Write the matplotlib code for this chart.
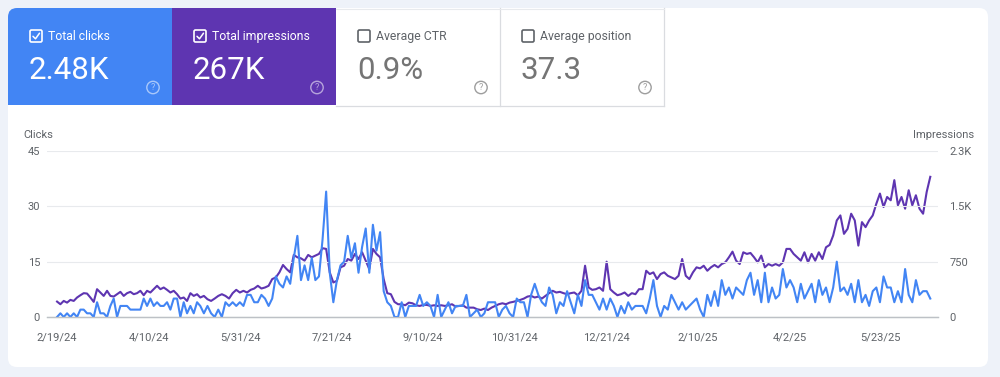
import numpy as np
import pandas as pd
import matplotlib
matplotlib.use('Agg')
import matplotlib.pyplot as plt
import matplotlib.patches as mpatches
import matplotlib.dates as mdates

plt.rcParams['font.family'] = ['Roboto', 'DejaVu Sans']

# metric cards
card_titles = ['Total clicks', 'Total impressions', 'Average CTR', 'Average position']
card_values = ['2.48K', '267K', '0.9%', '37.3']
card_selected = [True, True, False, False]

# series (one value about every 2 days)
clicks = [
    0, 1, 0, 1, 0, 1, 0, 2, 2, 1, 1, 0, 4, 1, 1, 0, 3, 5, 0, 3, 3, 3, 2, 2, 2, 2, 5, 3, 5, 3, 4, 3, 3, 4, 2, 5, 5, 0, 4, 1, 3, 1, 4,
    3, 1, 3, 1, 0, 2, 0, 4, 3, 4, 3, 4, 3, 6, 6, 4, 4, 6, 5, 3, 5, 11, 9, 8, 11, 9, 16, 22, 10, 14, 10, 16, 10, 11, 21, 34, 12, 4, 10, 14, 15,
    22, 16, 20, 12, 19, 24, 12, 25, 18, 23, 7, 4, 3, 0, 0, 4, 0, 3, 3, 3, 6, 3, 4, 3, 0, 6, 0, 2, 4, 1, 3, 3, 3, 6, 0, 1, 2, 0, 1, 4, 4,
    4, 0, 2, 3, 1, 0, 5, 4, 4, 0, 6, 9, 6, 4, 3, 8, 6, 1, 4, 3, 7, 4, 1, 6, 3, 10, 6, 6, 4, 2, 5, 2, 5, 3, 0, 3, 1, 4, 2, 3, 3,
    3, 1, 5, 10, 3, 0, 3, 2, 6, 4, 2, 4, 2, 3, 4, 5, 2, 0, 6, 3, 7, 3, 10, 6, 8, 5, 8, 7, 6, 10, 12, 6, 10, 4, 12, 4, 8, 5, 6, 13, 8,
    10, 8, 4, 9, 5, 7, 9, 4, 10, 6, 8, 4, 8, 15, 7, 8, 6, 9, 4, 10, 4, 6, 3, 7, 8, 4, 11, 8, 8, 4, 7, 4, 13, 6, 4, 10, 6, 7, 7, 5,
]
impressions = [
    209, 173, 218, 195, 232, 218, 264, 295, 323, 318, 264, 205, 377, 332, 286, 355, 286, 277, 309, 341, 286, 323, 341, 309, 323, 355,
    295, 355, 332, 377, 423, 377, 400, 368, 332, 355, 309, 250, 264, 218, 323, 286, 309,
    264, 286, 241, 218, 250, 286, 309, 286, 250, 323, 368, 332, 355, 332, 368, 386, 423, 386, 400, 423, 514, 536, 605, 705, 650, 605,
    841, 809, 795, 764, 841, 809, 832, 855, 932, 923, 605, 468, 491, 673, 695,
    786, 764, 855, 786, 877, 764, 650, 923, 855, 809, 514, 323, 309, 205, 173, 173, 159, 195, 186, 159, 150, 164, 164, 150, 159, 150,
    159, 150, 159, 173, 141, 150, 159, 127, 127, 127, 105, 95, 114, 95, 127,
    150, 173, 186, 173, 195, 205, 218, 232, 250, 277, 286, 264, 277, 250, 286, 323, 355, 332, 341, 323, 309, 323, 332, 295, 355, 695,
    400, 368, 377, 400, 355, 750, 377, 332, 295, 309, 332, 286, 323, 309, 377,
    377, 627, 582, 605, 514, 582, 605, 559, 536, 514, 559, 786, 559, 514, 605, 673, 659, 695, 627, 673, 705, 673, 718, 741, 809, 886,
    764, 718, 877, 855, 868, 809, 741, 832, 673, 718, 695, 718, 695, 741, 923,
    923, 855, 809, 764, 877, 741, 855, 764, 877, 786, 945, 977, 1105, 1309, 1377, 1127, 1195, 1400, 1309, 968, 1286, 1218, 1309, 1377,
    1536, 1673, 1491, 1627, 1582, 1855, 1514, 1627, 1468, 1718, 1514, 1650, 1468, 1400, 1695, 1900,
]
# first 43 readings cover Feb 19 - May 7 2024, the rest run on to mid June 2025
start = pd.Timestamp('2024-02-19')
dates = pd.DatetimeIndex(list(pd.date_range(start, start + pd.Timedelta(days=78), periods=43)) +
                         list(pd.date_range(start + pd.Timedelta(days=79.8), start + pd.Timedelta(days=486.5),
                                            periods=len(clicks) - 43)))

x_ticks = ['2024-02-19', '2024-04-10', '2024-05-31', '2024-07-21', '2024-09-10',
           '2024-10-31', '2024-12-21', '2025-02-10', '2025-04-02', '2025-05-23']
x_labels = ['2/19/24', '4/10/24', '5/31/24', '7/21/24', '9/10/24',
            '10/31/24', '12/21/24', '2/10/25', '4/2/25', '5/23/25']
click_ticks = [0, 15, 30, 45]
imp_ticks = [0, 750, 1500, 2250]
imp_labels = ['0', '750', '1.5K', '2.3K']

BLUE = '#4285f4'
PURPLE = '#5e35b1'
GREY_TXT = '#5f6368'

fig = plt.figure(figsize=(10, 3.77), dpi=100)
fig.patch.set_facecolor('#eef2f9')

# background layer in pixel coordinates
bg = fig.add_axes([0, 0, 1, 1])
bg.set_xlim(0, 1000)
bg.set_ylim(377, 0)
bg.axis('off')

card = mpatches.FancyBboxPatch((8, 8), 980, 359, boxstyle='round,pad=0,rounding_size=9',
                               fc='white', ec='none')
bg.add_patch(card)

tile_fill = [BLUE, PURPLE, 'white', 'white']
for i, (title, value) in enumerate(zip(card_titles, card_values)):
    x0 = 8 + 164 * i
    sel = card_selected[i]
    tile = mpatches.Rectangle((x0, 8), 164, 97, fc=tile_fill[i], ec='none')
    bg.add_patch(tile)
    tile.set_clip_path(card)
    fg = 'white' if sel else GREY_TXT
    box = mpatches.FancyBboxPatch((x0 + 22, 30), 12, 12, boxstyle='round,pad=0,rounding_size=1.5',
                                  fill=False, ec=fg, lw=1.2)
    bg.add_patch(box)
    if sel:
        bg.plot([x0 + 25, x0 + 27.5, x0 + 31.5], [36.3, 38.8, 33.2], color='white', lw=1.1,
                solid_capstyle='round', solid_joinstyle='round')
    bg.text(x0 + 40, 36.5, title, color=fg, fontsize=8.8, va='center', ha='left')
    bg.text(x0 + 21, 79, value, color='white' if sel else '#757575', fontsize=22.5,
            va='baseline', ha='left')
    hc = (1, 1, 1, 0.55) if sel else '#9e9e9e'
    bg.add_patch(mpatches.Circle((x0 + 145, 87.5), 6.2, fill=False, ec=hc, lw=1.0))
    bg.text(x0 + 145, 88, '?', color=hc, fontsize=6.5, ha='center', va='center')

# borders of the unselected tiles
bg.plot([336, 664], [105.5, 105.5], color='#dadce0', lw=0.9)
bg.plot([500, 500], [8, 105.5], color='#dadce0', lw=0.9)
bg.plot([664, 664], [8, 105.5], color='#dadce0', lw=0.9)
bg.plot([336, 664], [8.5, 8.5], color='#e8eaed', lw=0.8)

bg.text(23, 135, 'Clicks', color=GREY_TXT, fontsize=8, va='center', ha='left')
bg.text(974, 135, 'Impressions', color=GREY_TXT, fontsize=8, va='center', ha='right')

# chart
ax = fig.add_axes([0.047, 1 - 317 / 377, 0.891, 166 / 377])
ax2 = ax.twinx()
ax.set_zorder(ax2.get_zorder() + 1)
ax.patch.set_visible(False)
ax2.patch.set_visible(False)

ax2.plot(dates, impressions, color=PURPLE, lw=1.5)
ax.plot(dates, clicks, color=BLUE, lw=1.5)

ax.set_xlim(start - pd.Timedelta(days=5.6), start + pd.Timedelta(days=490.8))
ax.set_ylim(0, 45)
ax2.set_ylim(0, 2250)

ax.set_yticks(click_ticks)
ax.set_yticklabels([str(t) for t in click_ticks])
ax2.set_yticks(imp_ticks)
ax2.set_yticklabels(imp_labels)
ax.set_xticks(pd.to_datetime(x_ticks))
ax.set_xticklabels(x_labels)

ax.grid(axis='y', color='#e8eaed', lw=0.8)
ax.set_axisbelow(True)
for a in (ax, ax2):
    for s in ('top', 'left', 'right'):
        a.spines[s].set_visible(False)
    a.spines['bottom'].set_color('#bdc1c6')
    a.spines['bottom'].set_linewidth(0.9)
    a.tick_params(length=0, labelsize=8, labelcolor=GREY_TXT)
ax.tick_params(axis='y', pad=5)
ax2.tick_params(axis='y', pad=8)
ax.tick_params(axis='x', pad=11)

fig.savefig('out.png', dpi=100, facecolor=fig.get_facecolor())
